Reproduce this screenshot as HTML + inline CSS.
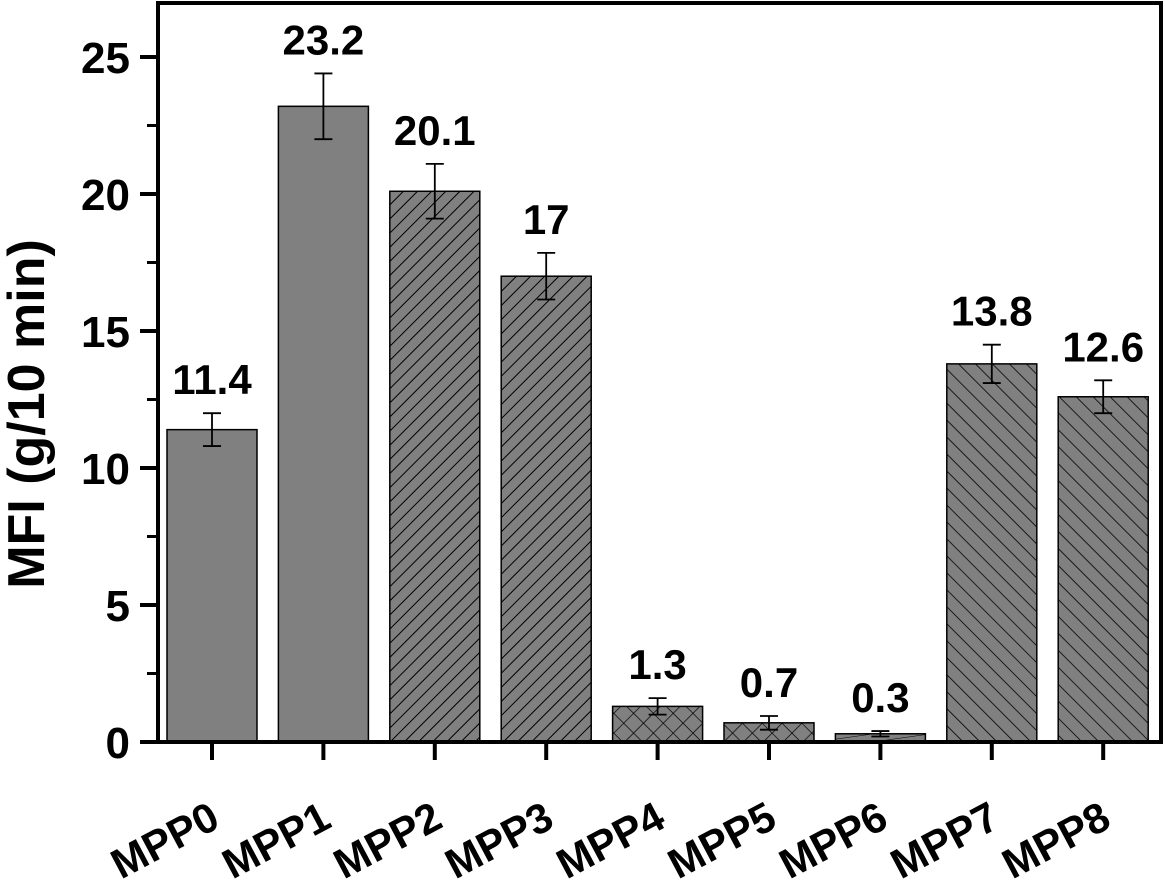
<!DOCTYPE html>
<html><head><meta charset="utf-8"><style>
html,body{margin:0;padding:0;background:#fff;width:1165px;height:887px;overflow:hidden}
svg text{font-family:"Liberation Sans",Arial,sans-serif;font-weight:bold;fill:#000}
</style></head><body>
<svg id="chart" width="1165" height="887" viewBox="0 0 1165 887" xmlns="http://www.w3.org/2000/svg">
<defs>
<pattern id="p-diag" patternUnits="userSpaceOnUse" width="10" height="10" patternTransform="rotate(45)">
<rect width="10" height="10" fill="#808080"/><line x1="0" y1="0" x2="0" y2="10" stroke="#000" stroke-width="2"/></pattern>
<pattern id="p-back" patternUnits="userSpaceOnUse" width="12" height="12" patternTransform="rotate(-45)">
<rect width="12" height="12" fill="#808080"/><line x1="0" y1="0" x2="0" y2="12" stroke="#000" stroke-width="1.6"/></pattern>
<pattern id="p-cross" patternUnits="userSpaceOnUse" width="14" height="14" patternTransform="rotate(45)">
<rect width="14" height="14" fill="#808080"/><line x1="0" y1="0" x2="0" y2="14" stroke="#000" stroke-width="1.4"/><line x1="0" y1="0" x2="14" y2="0" stroke="#000" stroke-width="1.4"/></pattern>
<pattern id="p-horiz" patternUnits="userSpaceOnUse" width="40" height="8" patternTransform="rotate(-8)">
<rect width="40" height="8" fill="#808080"/><line x1="0" y1="0" x2="40" y2="0" stroke="#000" stroke-width="1"/></pattern>
</defs>
<g id="bars"></g>
<g id="axes"></g>
</svg>
<script>
const categories=["MPP0","MPP1","MPP2","MPP3","MPP4","MPP5","MPP6","MPP7","MPP8"];
const values=[11.4,23.2,20.1,17,1.3,0.7,0.3,13.8,12.6];
const errors=[0.6,1.2,1.0,0.85,0.3,0.25,0.1,0.7,0.6];
const valueLabels=["11.4","23.2","20.1","17","1.3","0.7","0.3","13.8","12.6"];
const fills=["solid","solid","diag","diag","cross","cross","horiz","back","back"];
const yTicks=[0,5,10,15,20,25];
const yMinorTicks=[2.5,7.5,12.5,17.5,22.5];

const NS="http://www.w3.org/2000/svg";
const y=v=>742-v*27.4;
const x=i=>212+i*111.4;
const BW=90;
function mk(tag,attrs,parent){const e=document.createElementNS(NS,tag);for(const k in attrs)e.setAttribute(k,attrs[k]);parent.appendChild(e);return e;}
const bars=document.getElementById('bars'),axes=document.getElementById('axes');
const fillMap={solid:"#808080",diag:"url(#p-diag)",back:"url(#p-back)",cross:"url(#p-cross)",horiz:"url(#p-horiz)"};
categories.forEach((c,i)=>{
  const cx=x(i),top=y(values[i]);
  const r=mk('rect',{x:cx-BW/2,y:top,width:BW,height:742-top,fill:fillMap[fills[i]],stroke:"#000","stroke-width":1.5},bars);
  
  
  const et=y(values[i]+errors[i]),eb=y(values[i]-errors[i]);
  const g=mk('g',{stroke:"#000","stroke-width":1.8},bars);
  
  
  mk('line',{x1:cx,x2:cx,y1:et,y2:eb},g);
  mk('line',{x1:cx-9,x2:cx+9,y1:et,y2:et},g);
  mk('line',{x1:cx-9,x2:cx+9,y1:eb,y2:eb},g);
  const t=mk('text',{x:cx,y:et-19,"text-anchor":"middle","font-size":42},bars);
  t.textContent=valueLabels[i];
  
  
  mk('line',{x1:cx,x2:cx,y1:742,y2:760,stroke:"#000","stroke-width":4},axes);
  const lx=cx+10,ly=826;
  const xl=mk('text',{x:lx,y:ly,"text-anchor":"end","font-size":42,transform:`rotate(-28 ${lx} ${ly})`},axes);
  xl.textContent=c;
  
  
});
const frame=mk('rect',{x:158,y:3,width:1003,height:739,fill:"none",stroke:"#000","stroke-width":4},axes);


yTicks.forEach(v=>{
  mk('line',{x1:140,x2:158,y1:y(v),y2:y(v),stroke:"#000","stroke-width":4},axes);
  const t=mk('text',{x:130,y:y(v)+16,"text-anchor":"end","font-size":44},axes);
  t.textContent=v;
  
  
});
yMinorTicks.forEach(v=>mk('line',{x1:147,x2:158,y1:y(v),y2:y(v),stroke:"#000","stroke-width":3},axes));
const yt=mk('text',{x:0,y:0,"text-anchor":"middle","font-size":52,transform:"translate(44 414) rotate(-90)"},axes);
yt.textContent="MFI (g/10 min)";


</script>
</body></html>
